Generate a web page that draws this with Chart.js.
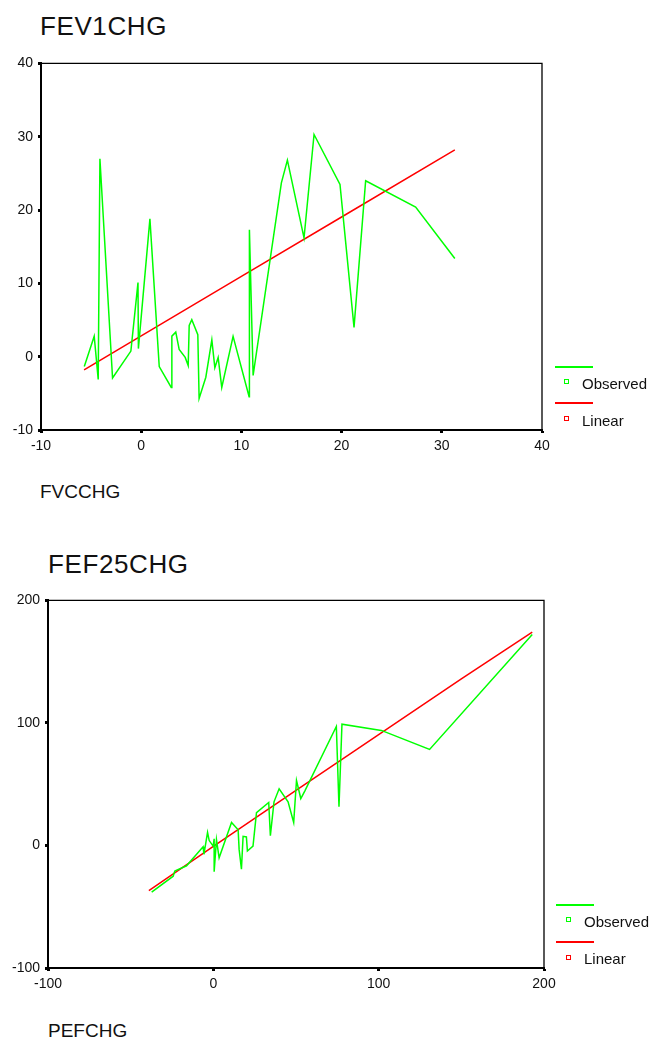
<!DOCTYPE html>
<html>
<head>
<meta charset="utf-8">
<script src="https://cdn.jsdelivr.net/npm/chart.js@4.4.1/dist/chart.umd.min.js"></script>
<style>
  body { margin: 0; background: #fff; font-family: "Liberation Sans", Arial, sans-serif; color: #111; }
  #page { position: relative; width: 653px; height: 1039px; overflow: hidden; }
  .t { position: absolute; line-height: 1; white-space: nowrap; }
  .title { font-size: 26px; letter-spacing: 0.6px; }
  .axt { font-size: 19px; }
  .lg { font-size: 15px; }
  .ln { position: absolute; height: 0; border-top: 2px solid; width: 38px; }
  .sq { position: absolute; width: 3px; height: 3px; border: 1.5px solid; background: #fff; }
  canvas { position: absolute; left: 0; }
</style>
</head>
<body>
<div id="page">
  <div class="t title" style="left:40px;top:13px">FEV1CHG</div>
  <canvas id="fev" width="653" height="410" style="top:50px;width:653px;height:410px"></canvas>
  <div class="t axt" style="left:40px;top:482px">FVCCHG</div>
  <div class="ln" style="left:555px;top:366px;border-color:#00ff00"></div>
  <div class="sq" style="left:564px;top:379px;border-color:#00ff00"></div>
  <div class="t lg" style="left:582px;top:376px">Observed</div>
  <div class="ln" style="left:555px;top:402px;border-color:#ff0000"></div>
  <div class="sq" style="left:564px;top:416px;border-color:#ff0000"></div>
  <div class="t lg" style="left:582px;top:413px">Linear</div>

  <div class="t title" style="left:48px;top:551px">FEF25CHG</div>
  <canvas id="pef" width="653" height="411" style="top:587px;width:653px;height:411px"></canvas>
  <div class="t axt" style="left:48px;top:1021px">PEFCHG</div>
  <div class="ln" style="left:556px;top:904px;border-color:#00ff00"></div>
  <div class="sq" style="left:566px;top:917px;border-color:#00ff00"></div>
  <div class="t lg" style="left:584px;top:914px">Observed</div>
  <div class="ln" style="left:556px;top:941px;border-color:#ff0000"></div>
  <div class="sq" style="left:566px;top:955px;border-color:#ff0000"></div>
  <div class="t lg" style="left:584px;top:951px">Linear</div>
</div>
<script>
// FEV1CHG vs FVCCHG
const fevX = [-5.68, -4.69, -4.29, -4.12, -2.86, -1.03, -0.32, -0.28, 0.87, 1.8, 3.0, 3.06, 3.45, 3.79, 4.39, 4.69, 4.79, 5.05, 5.65, 5.78, 6.45, 7.05, 7.35, 7.68, 8.04, 9.17, 10.77, 10.8, 11.17, 13.99, 14.59, 16.25, 17.25, 19.84, 21.24, 22.4, 27.39, 31.3];
const fevY = [-1.34, 2.8, -3.1, 27.0, -2.9, 0.76, 10.1, 1.1, 18.8, -1.34, -4.2, 2.8, 3.35, 1.0, -0.1, -1.2, 4.25, 5.05, 3.0, -5.7, -2.8, 2.3, -1.5, -0.1, -4.2, 2.77, -5.45, 17.3, -2.55, 23.7, 26.8, 16.2, 30.3, 23.5, 4.0, 24.0, 20.4, 13.4];
const fevFitX = [-5.7, 0, 10, 20, 31.3];
const fevFitY = [-1.8, 2.85, 10.95, 19.05, 28.2];
const fevTicks = [-10, 0, 10, 20, 30, 40];

// FEF25CHG vs PEFCHG
const pefX = [-37.3, -24.3, -23.3, -16.2, -6.2, -5.7, -3.5, -2.5, -0.1, 0.5, 0.5, 1.9, 3.5, 11.0, 15.0, 15.6, 17.0, 18.0, 20.0, 20.6, 24.0, 26.1, 33.5, 34.5, 36.7, 39.8, 45.2, 48.6, 50.3, 52.9, 55.3, 74.4, 76.0, 77.8, 101.6, 130.8, 192.9];
const pefY = [-38, -25.1, -20.8, -16.6, -1.0, -7.2, 10.7, 4.0, -0.5, 5.4, -21.4, 4.8, -10.1, 18.8, 12.8, -3.2, -19.3, 7.5, 7.0, -4.5, -0.5, 26.8, 35.1, 8.0, 35.6, 46.3, 35.6, 18.8, 53.0, 38.3, 44.4, 97.1, 31.6, 99.0, 93.9, 78.4, 172.1];
const pefFitX = [-39, 0, 50, 100, 150, 192.9];
const pefFitY = [-36.9, -0.8, 45, 90.5, 136, 174.2];
const pefTicks = [-100, 0, 100, 200];

const FONT = { family: '"Liberation Sans", Arial, sans-serif', size: 14 };

const toPts = (xs, ys) => xs.map((x, i) => ({ x, y: ys[i] }));

// thin top/right edges of the plot box
const boxPlugin = {
  id: 'box',
  afterDraw(chart) {
    const { ctx, chartArea: a } = chart;
    ctx.save();
    ctx.strokeStyle = '#000';
    ctx.lineWidth = 1.3;
    ctx.beginPath();
    ctx.moveTo(a.left, a.top);
    ctx.lineTo(a.right, a.top);
    ctx.lineTo(a.right, a.bottom);
    ctx.stroke();
    ctx.restore();
  },
};

function axis(ticks, fit) {
  return {
    type: 'linear',
    min: ticks[0],
    max: ticks[ticks.length - 1],
    afterBuildTicks: (s) => { s.ticks = ticks.map((v) => ({ value: v })); },
    afterFit: fit,
    border: { color: '#000', width: 2 },
    grid: { drawOnChartArea: false, tickLength: 3, tickWidth: 3, tickColor: '#000', color: '#000' },
    ticks: { color: '#111', font: FONT, padding: 5, maxRotation: 0, autoSkip: false },
  };
}

function makeChart(id, obsX, obsY, fitX, fitY, ticks, yWidth, padRight) {
  return new Chart(document.getElementById(id), {
    type: 'scatter',
    data: {
      datasets: [
        {
          label: 'Observed',
          data: toPts(obsX, obsY),
          showLine: true,
          borderColor: '#00ff00',
          borderWidth: 1.5,
          pointRadius: 0,
          tension: 0,
        },
        {
          label: 'Linear',
          data: toPts(fitX, fitY),
          showLine: true,
          borderColor: '#ff0000',
          borderWidth: 1.5,
          pointRadius: 0,
          tension: 0,
        },
      ],
    },
    options: {
      responsive: false,
      animation: false,
      devicePixelRatio: 1,
      layout: { padding: { left: 0, top: 7, right: padRight, bottom: 0 } },
      plugins: { legend: { display: false }, tooltip: { enabled: false } },
      scales: {
        x: axis(ticks, (s) => { s.height = 30; }),
        y: axis(ticks, (s) => { s.width = yWidth; }),
      },
    },
    plugins: [boxPlugin],
  });
}

makeChart('fev', fevX, fevY, fevFitX, fevFitY, fevTicks, 41, 111);
makeChart('pef', pefX, pefY, pefFitX, pefFitY, pefTicks, 48, 109);
</script>
</body>
</html>
